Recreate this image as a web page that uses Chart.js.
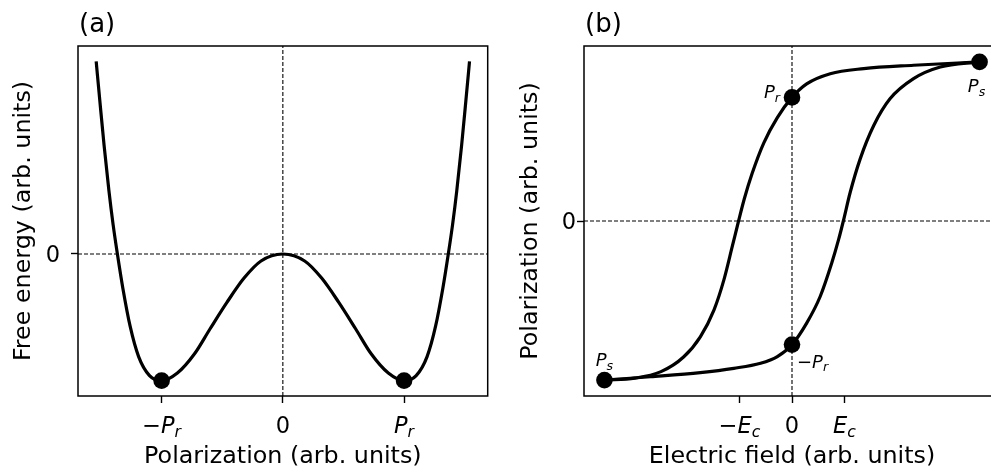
<!DOCTYPE html>
<html>
<head>
<meta charset="utf-8">
<script src="https://cdn.jsdelivr.net/npm/chart.js@4.4.1/dist/chart.umd.min.js"></script>
<style>
  html, body { margin: 0; padding: 0; background: #fff; overflow: hidden; }
  #wrap { position: relative; width: 991px; height: 473px; overflow: hidden; }
  canvas { position: absolute; top: 0; }
  #panelA { left: 0; }
  #panelB { left: 496px; }
</style>
</head>
<body>
<div id="wrap">
  <canvas id="panelA" width="496" height="473"></canvas>
  <canvas id="panelB" width="520" height="473"></canvas>
</div>
<script>
// (a) double-well free energy, polarization in units of Pr
const polA = [-1.54, -1.51, -1.475, -1.435, -1.40, -1.365, -1.32, -1.26, -1.19, -1.10, -1.00, -0.87, -0.73, -0.60, -0.46, -0.32, -0.18, 0,
              0.18, 0.32, 0.46, 0.60, 0.73, 0.87, 1.00, 1.10, 1.19, 1.26, 1.32, 1.365, 1.40, 1.435, 1.475, 1.51, 1.54];
const energyA = [1.52, 1.21, 0.86, 0.50, 0.23, 0.00, -0.27, -0.57, -0.81, -0.96, -1.00, -0.94, -0.79, -0.59, -0.38, -0.19, -0.055, 0,
                 -0.055, -0.19, -0.38, -0.59, -0.79, -0.94, -1.00, -0.96, -0.81, -0.57, -0.27, 0.00, 0.23, 0.50, 0.86, 1.21, 1.52];
const minimaP = [-1, 1];
const minimaF = [-1, -1];
const xRangeA = [-1.69, 1.69];
const yRangeA = [-1.121, 1.642];
const xTicksA = [-1, 0, 1];
const xTickTextA = ['−P_r', '0', 'P_r'];
const yTicksA = [0];
const yTickTextA = ['0'];

// (b) hysteresis loop, field in units of Ec, polarization in units of Ps
const fieldFall = [-3.58, -3.0, -2.5, -2.07, -1.75, -1.49, -1.30, -1.14, -1.02, -0.91, -0.76, -0.54, -0.28, 0, 0.28, 0.73, 1.37, 2.32, 3.58];
const polFall   = [-1.0, -0.988, -0.947, -0.855, -0.728, -0.56, -0.37, -0.16, 0, 0.14, 0.30, 0.49, 0.65, 0.777, 0.862, 0.926, 0.958, 0.979, 1.0];
const fieldRise = [-3.58, -2.70, -1.75, -1.11, -0.60, -0.28, 0, 0.28, 0.54, 0.76, 0.89, 0.98, 1.11, 1.30, 1.56, 1.87, 2.32, 2.83, 3.58];
const polRise   = [-1.0, -0.979, -0.953, -0.926, -0.894, -0.852, -0.777, -0.642, -0.473, -0.263, -0.116, 0, 0.179, 0.389, 0.60, 0.768, 0.895, 0.968, 1.0];
const markE = [3.58, 0, 0, -3.58];
const markP = [1.0, 0.777, -0.777, -1.0];
const markText = ['P_s', 'P_r', '−P_r', 'P_s'];
const xRangeB = [-3.97, 3.97];
const yRangeB = [-1.1, 1.1];
const xTicksB = [-1, 0, 1];
const xTickTextB = ['−E_c', '0', 'E_c'];
const yTicksB = [0];
const yTickTextB = ['0'];

const FONT = '"DejaVu Sans", sans-serif';

// letters italic, subscript after "_" smaller and lowered (mathtext look)
function drawMath(ctx, label, x, y, size, align) {
  const parts = label.split('_');
  const runs = [...parts[0]].map(ch => ({
    t: ch, font: (/[A-Za-z]/.test(ch) ? 'italic ' : '') + size + 'px ' + FONT, dy: 0
  }));
  if (parts[1]) runs.push({ t: parts[1], font: 'italic ' + (size * 0.7).toFixed(1) + 'px ' + FONT, dy: size * 0.2 });
  let w = 0;
  runs.forEach(r => { ctx.font = r.font; r.w = ctx.measureText(r.t).width; w += r.w; });
  let cx = align === 'center' ? x - w / 2 : align === 'right' ? x - w : x;
  ctx.textAlign = 'left';
  ctx.textBaseline = 'alphabetic';
  runs.forEach(r => { ctx.font = r.font; ctx.fillText(r.t, cx, y + r.dy); cx += r.w; });
}

function axis(range, ticks, horizontal) {
  return {
    type: 'linear', min: range[0], max: range[1],
    afterBuildTicks: s => { s.ticks = ticks.map(v => ({ value: v })); },
    afterFit: s => { if (horizontal) s.height = 7; else s.width = 7; },
    ticks: { display: false },
    grid: { drawOnChartArea: false, tickLength: 7, tickWidth: 1.4, tickColor: '#000' },
    border: { display: false }
  };
}

function pts(xs, ys) { return xs.map((x, i) => ({ x: x, y: ys[i] })); }

function curve(data) {
  return { data: data, showLine: true, borderColor: '#000', borderWidth: 3.2, pointRadius: 0,
           cubicInterpolationMode: 'monotone', order: 1 };
}
function dashed(data) {
  return { data: data, showLine: true, borderColor: '#000', borderWidth: 1.1, borderDash: [4, 2],
           pointRadius: 0, order: 2 };
}
function dots(data) {
  return { data: data, pointRadius: 8.3, backgroundColor: '#000', borderWidth: 0, order: 0 };
}

// frame, tick labels, axis titles and panel letter
function decor(cfg) {
  return {
    id: 'decor',
    afterDraw(chart) {
      const ctx = chart.ctx, a = chart.chartArea;
      const xs = chart.scales.x, ys = chart.scales.y;
      ctx.save();
      ctx.strokeStyle = '#000';
      ctx.lineWidth = 1.5;
      ctx.strokeRect(a.left, a.top, a.right - a.left, a.bottom - a.top);
      ctx.fillStyle = '#000';
      cfg.xTicks.forEach((v, i) => drawMath(ctx, cfg.xText[i], xs.getPixelForValue(v), a.bottom + 36.5, 22.5, 'center'));
      cfg.yTicks.forEach((v, i) => drawMath(ctx, cfg.yText[i], a.left - cfg.yGap, ys.getPixelForValue(v) + 8, 22.5, 'right'));
      ctx.font = '23.8px ' + FONT;
      ctx.textAlign = 'center';
      ctx.textBaseline = 'alphabetic';
      ctx.fillText(cfg.xTitle, (a.left + a.right) / 2, a.bottom + 66.5);
      ctx.save();
      ctx.translate(a.left - cfg.yTitleGap, (a.top + a.bottom) / 2);
      ctx.rotate(-Math.PI / 2);
      ctx.fillText(cfg.yTitle, 0, 0);
      ctx.restore();
      ctx.font = '26px ' + FONT;
      ctx.textAlign = 'left';
      ctx.fillText(cfg.letter, a.left + 1, 32);
      if (cfg.extra) cfg.extra(chart, ctx);
      ctx.restore();
    }
  };
}

function baseOptions(padding, x, y) {
  return {
    responsive: false, animation: false, events: [],
    layout: { padding: padding },
    plugins: { legend: { display: false }, tooltip: { enabled: false } },
    scales: { x: x, y: y }
  };
}

new Chart(document.getElementById('panelA'), {
  type: 'scatter',
  data: {
    datasets: [
      dots(pts(minimaP, minimaF)),
      curve(pts(polA, energyA)),
      dashed([{ x: xRangeA[0], y: 0 }, { x: xRangeA[1], y: 0 }]),
      dashed([{ x: 0, y: yRangeA[0] }, { x: 0, y: yRangeA[1] }])
    ]
  },
  options: baseOptions({ left: 71, right: 5, top: 46, bottom: 70 },
                       axis(xRangeA, xTicksA, true), axis(yRangeA, yTicksA, false)),
  plugins: [decor({
    xTicks: xTicksA, xText: xTickTextA, yTicks: yTicksA, yText: yTickTextA, yGap: 18,
    xTitle: 'Polarization (arb. units)', yTitle: 'Free energy (arb. units)', yTitleGap: 48, letter: '(a)'
  })]
});

// label offsets next to each marker: [dx, dy, align]
const markOffsets = [[-3, 30, 'center'], [-12, 1, 'right'], [5, 23, 'left'], [0, -14, 'center']];

new Chart(document.getElementById('panelB'), {
  type: 'scatter',
  data: {
    datasets: [
      dots(pts(markE, markP)),
      curve(pts(fieldFall, polFall)),
      curve(pts(fieldRise, polRise)),
      dashed([{ x: xRangeB[0], y: 0 }, { x: xRangeB[1], y: 0 }]),
      dashed([{ x: 0, y: yRangeB[0] }, { x: 0, y: yRangeB[1] }])
    ]
  },
  options: baseOptions({ left: 81, right: 16, top: 46, bottom: 70 },
                       axis(xRangeB, xTicksB, true), axis(yRangeB, yTicksB, false)),
  plugins: [decor({
    xTicks: xTicksB, xText: xTickTextB, yTicks: yTicksB, yText: yTickTextB, yGap: 8,
    xTitle: 'Electric field (arb. units)', yTitle: 'Polarization (arb. units)', yTitleGap: 47, letter: '(b)',
    extra(chart, ctx) {
      const xs = chart.scales.x, ys = chart.scales.y;
      markText.forEach((t, i) => {
        const o = markOffsets[i];
        drawMath(ctx, t, xs.getPixelForValue(markE[i]) + o[0], ys.getPixelForValue(markP[i]) + o[1], 18, o[2]);
      });
    }
  })]
});
</script>
</body>
</html>
